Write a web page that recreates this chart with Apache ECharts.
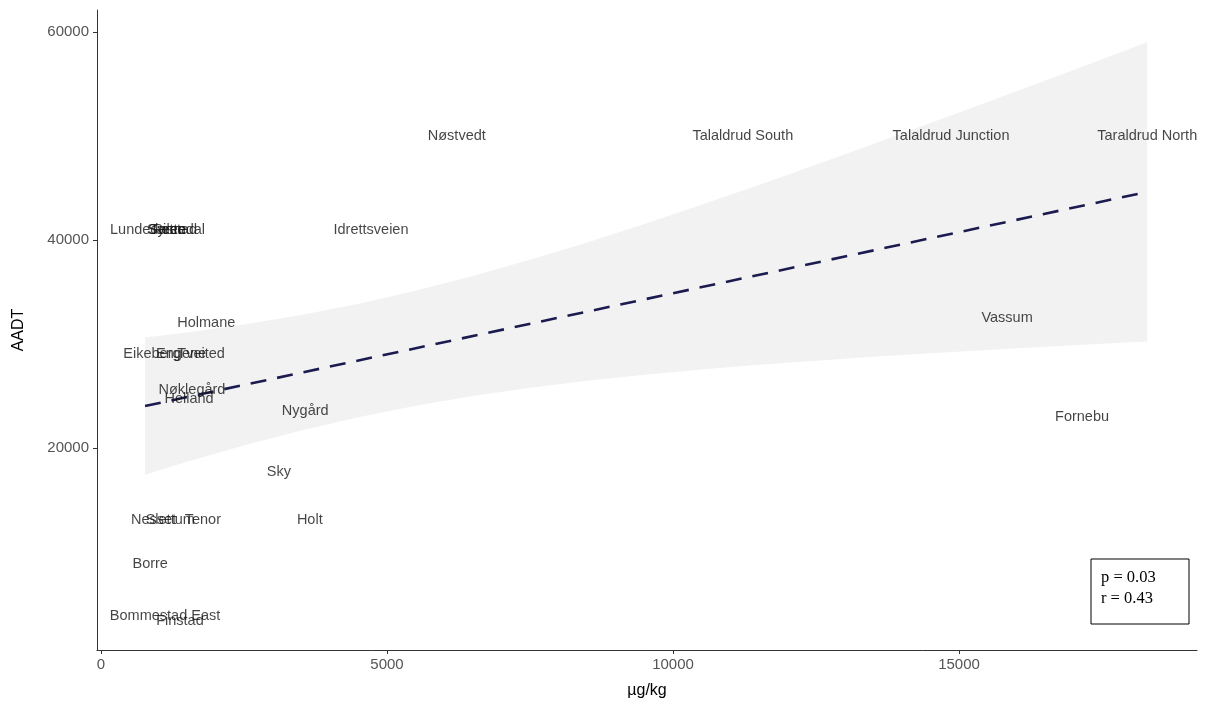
<!DOCTYPE html>
<html><head><meta charset="utf-8">
<script src="https://cdn.jsdelivr.net/npm/echarts@6/dist/echarts.min.js"></script>
<style>html,body{margin:0;padding:0;background:#fff}#c{width:1209px;height:709px}</style>
</head><body><div id="c"></div>
<script>
// Site labels (text drawn at each site's position)
const siteNames = ['Nøstvedt','Talaldrud South','Talaldrud Junction','Taraldrud North',
  'Lundedalen','Sætre','Syrstad','Ristedal','Idrettsveien','Holmane',
  'Eikeberg','Engene','Tveited','Nøklegård','Helland','Nygård','Sky','Holt',
  'Nesset','Slettum','Tenor','Borre','Bommestad East','Finstad','Vassum','Fornebu'];
const siteX = [6220, 11220, 14860, 18290,
  820, 1150, 1250, 1360, 4720, 1840,
  890, 1400, 1750, 1590, 1540, 3570, 3110, 3650,
  920, 1210, 1780, 860, 1120, 1380, 15840, 17150];
const siteY = [50000, 50000, 50000, 50000,
  41000, 41000, 41000, 41000, 41000, 32000,
  29000, 29000, 29000, 25600, 24700, 23600, 17700, 13100,
  13100, 13100, 13100, 8900, 3900, 3400, 32500, 23000];

// Linear fit line and its confidence band
const fitX = [770, 18290];
const fitY = [24040, 44620];
const bandX = [770, 1500, 2500, 3500, 4500, 5500, 6500, 7500, 8500, 9500,
  10500, 11500, 12500, 13500, 14500, 15500, 16500, 17500, 18290];
const bandUpper = [30630, 31120, 31890, 32800, 33870, 35120, 36530, 38090, 39760, 41540,
  43390, 45290, 47240, 49220, 51230, 53260, 55300, 57360, 59000];
const bandLower = [17450, 18680, 20260, 21700, 22970, 24080, 25010, 25810, 26480, 27050,
  27550, 28000, 28400, 28770, 29110, 29430, 29730, 30020, 30240];

const xTicks = [0, 5000, 10000, 15000];
const yTicks = [20000, 40000, 60000];
const statsLines = ['p = 0.03', 'r = 0.43'];

const chart = echarts.init(document.getElementById('c'), null, {renderer: 'canvas'});
const axisCommon = {
  type: 'value',
  splitLine: {show: false},
  axisLine: {show: true, onZero: false, lineStyle: {color: '#333', width: 1}},
  axisTick: {show: true, length: 4, lineStyle: {color: '#333'}},
  axisLabel: {color: '#555', fontSize: 15, formatter: v => String(v),
              fontFamily: 'Liberation Sans, Arial, sans-serif'},
  nameLocation: 'middle',
  nameTextStyle: {color: '#000', fontSize: 16, fontFamily: 'Liberation Sans, Arial, sans-serif'}
};
chart.setOption({
  animation: false,
  backgroundColor: '#fff',
  grid: {left: 97, right: 12, top: 10, bottom: 59, containLabel: false},
  xAxis: Object.assign({}, axisCommon, {
    min: -70, max: 19160, name: 'µg/kg', nameGap: 33,
    axisTick: Object.assign({}, axisCommon.axisTick, {customValues: xTicks}),
    axisLabel: Object.assign({}, axisCommon.axisLabel, {customValues: xTicks, margin: 7})
  }),
  yAxis: Object.assign({}, axisCommon, {
    min: 600, max: 62100, name: 'AADT', nameGap: 70,
    axisTick: Object.assign({}, axisCommon.axisTick, {customValues: yTicks}),
    axisLabel: Object.assign({}, axisCommon.axisLabel, {customValues: yTicks, margin: 8})
  }),
  series: [
    {
      type: 'custom',
      silent: true,
      z: 1,
      data: bandX.map((x, i) => [x, bandLower[i], bandUpper[i]]),
      encode: {x: 0, y: [1, 2]},
      renderItem: function (params, api) {
        if (params.dataIndexInside !== 0) return null;
        const pts = [];
        for (let i = 0; i < bandX.length; i++) pts.push(api.coord([bandX[i], bandUpper[i]]));
        for (let i = bandX.length - 1; i >= 0; i--) pts.push(api.coord([bandX[i], bandLower[i]]));
        return {type: 'polygon', shape: {points: pts}, style: {fill: '#f2f2f3', stroke: null}};
      }
    },
    {
      type: 'line',
      z: 3,
      silent: true,
      symbol: 'none',
      data: fitX.map((x, i) => [x, fitY[i]]),
      lineStyle: {color: '#1b1b50', width: 2.6, type: [16, 11]}
    },
    {
      type: 'scatter',
      z: 4,
      silent: true,
      symbolSize: 1,
      itemStyle: {color: 'rgba(0,0,0,0)'},
      data: siteNames.map((n, i) => ({name: n, value: [siteX[i], siteY[i]]})),
      label: {
        show: true, position: 'inside', formatter: p => p.name,
        color: '#151515', textBorderWidth: 0, fontSize: 14.5,
        fontFamily: 'Liberation Sans, Arial, sans-serif'
      }
    }
  ],
  graphic: [
    {type: 'rect', shape: {x: 1091, y: 559, width: 98, height: 65},
     style: {fill: '#fff', stroke: '#000', lineWidth: 1}, z: 10},
    {type: 'text', x: 1101, y: 567, z: 11,
     style: {text: statsLines.join('\n'), fill: '#000', fontSize: 16.5, lineHeight: 21,
             fontFamily: 'Liberation Serif, Times New Roman, serif'}}
  ]
});
</script></body></html>
